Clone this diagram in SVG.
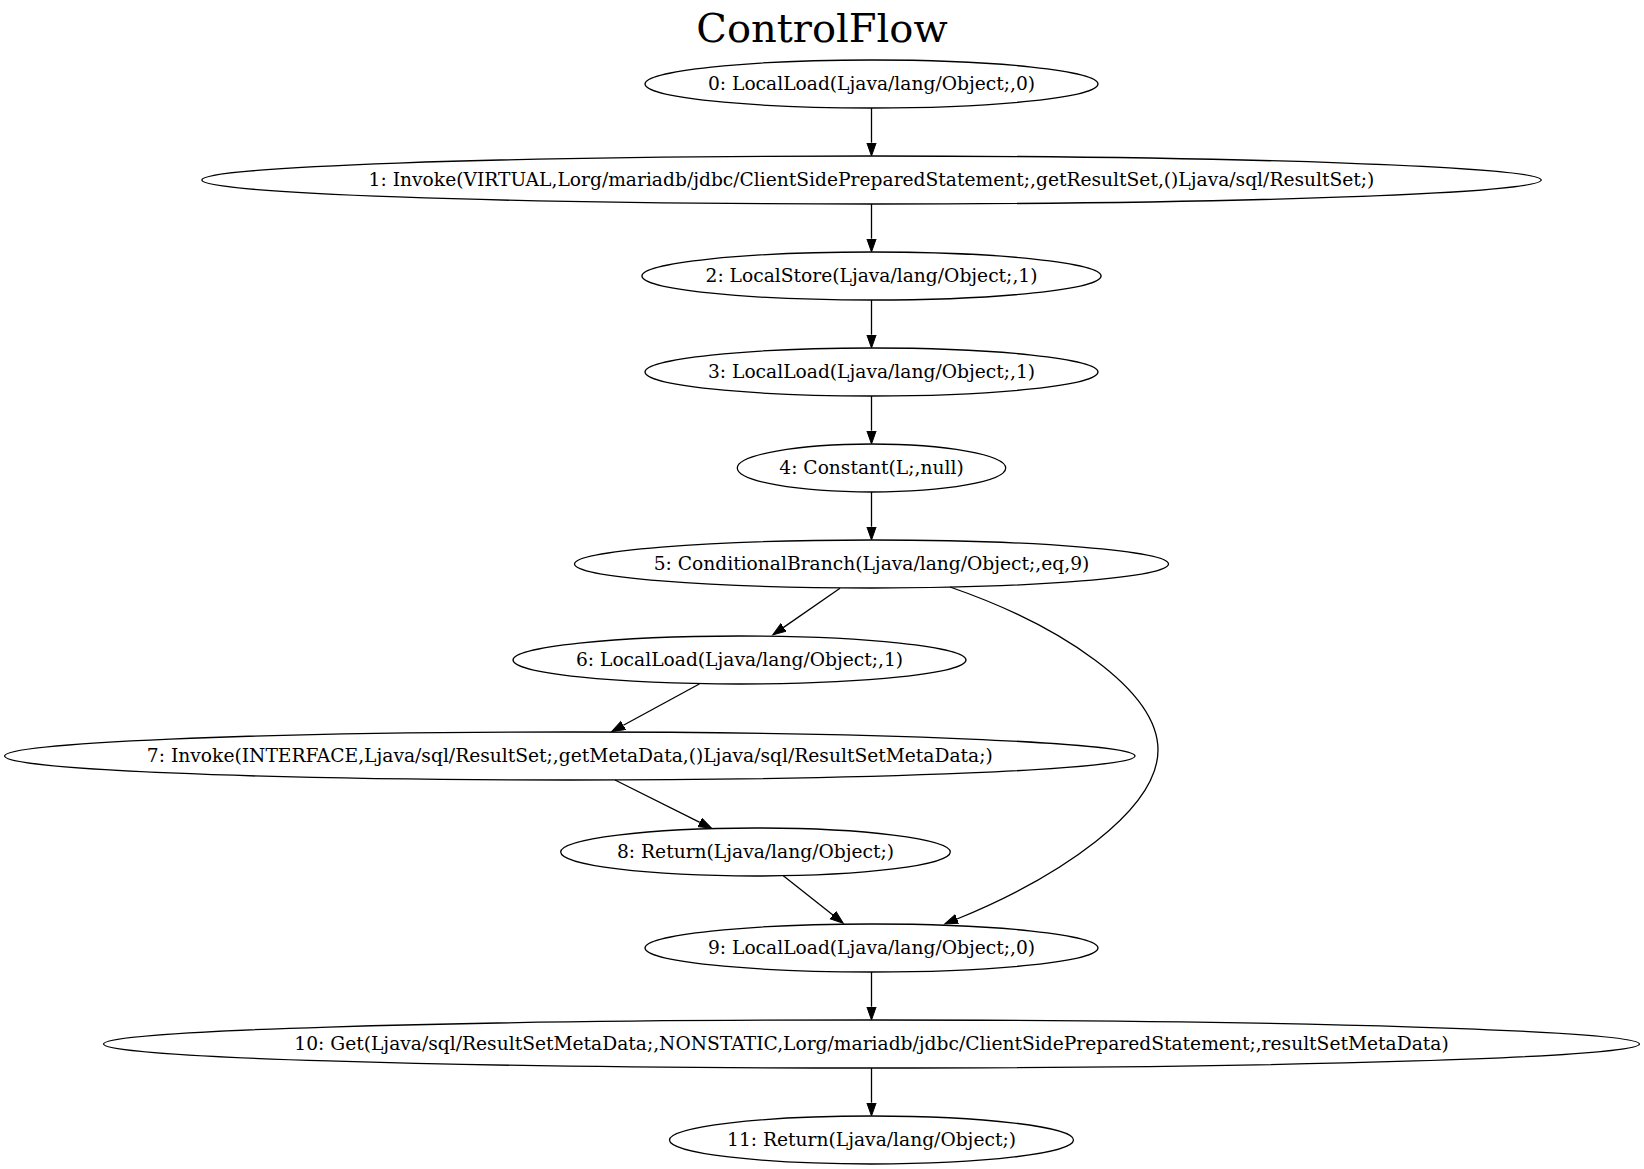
<svg xmlns="http://www.w3.org/2000/svg" width="1644" height="1169" viewBox="0 0 1644 1169">
<style>
.n ellipse{fill:none;stroke:#000;stroke-width:1.3}
.n text{font-family:"DejaVu Serif","Liberation Serif",serif;font-size:18.67px;text-anchor:middle;fill:#000}
.e path{fill:none;stroke:#000;stroke-width:1.3}
.title{font-family:"DejaVu Serif","Liberation Serif",serif;font-size:40px;text-anchor:middle;fill:#000}
</style>
<defs>
<marker id="ah" markerUnits="userSpaceOnUse" markerWidth="16" markerHeight="12" refX="0" refY="5" orient="auto" viewBox="0 0 16 12">
<path d="M0,0.3 L13.3,5 L0,9.7 z" fill="#000" stroke="#000" stroke-width="1"/>
</marker>
</defs>
<rect width="1644" height="1169" fill="#fff"/>
<text class="title" x="822" y="42">ControlFlow</text>
<g id="edges" class="e">
<path d="M871.5,108 L871.5,142.7" marker-end="url(#ah)"/>
<path d="M871.5,204 L871.5,238.7" marker-end="url(#ah)"/>
<path d="M871.5,300 L871.5,334.7" marker-end="url(#ah)"/>
<path d="M871.5,396 L871.5,430.7" marker-end="url(#ah)"/>
<path d="M871.5,492 L871.5,526.7" marker-end="url(#ah)"/>
<path d="M840,588.3 L783.6,627.4" marker-end="url(#ah)"/>
<path d="M950,587 C1060,625 1158,690 1158,750 C1158,810 1060,877 957,919" marker-end="url(#ah)"/>
<path d="M699.3,684 L623.4,725.3" marker-end="url(#ah)"/>
<path d="M615,780 L699.8,822.4" marker-end="url(#ah)"/>
<path d="M783.3,875.7 L832.9,915" marker-end="url(#ah)"/>
<path d="M871.5,972 L871.5,1006.7" marker-end="url(#ah)"/>
<path d="M871.5,1068 L871.5,1102.7" marker-end="url(#ah)"/>
</g>
<g id="node0" class="n"><ellipse cx="871.5" cy="84" rx="226.5" ry="24"/><text x="871.5" y="89.5">0: LocalLoad(Ljava/lang/Object;,0)</text></g>
<g id="node1" class="n"><ellipse cx="871.5" cy="180" rx="669.7" ry="24"/><text x="871.5" y="185.5">1: Invoke(VIRTUAL,Lorg/mariadb/jdbc/ClientSidePreparedStatement;,getResultSet,()Ljava/sql/ResultSet;)</text></g>
<g id="node2" class="n"><ellipse cx="871.5" cy="276" rx="229.6" ry="24"/><text x="871.5" y="281.5">2: LocalStore(Ljava/lang/Object;,1)</text></g>
<g id="node3" class="n"><ellipse cx="871.5" cy="372" rx="226.5" ry="24"/><text x="871.5" y="377.5">3: LocalLoad(Ljava/lang/Object;,1)</text></g>
<g id="node4" class="n"><ellipse cx="871.5" cy="468" rx="134.2" ry="24"/><text x="871.5" y="473.5">4: Constant(L;,null)</text></g>
<g id="node5" class="n"><ellipse cx="871.5" cy="564" rx="297" ry="24"/><text x="871.5" y="569.5">5: ConditionalBranch(Ljava/lang/Object;,eq,9)</text></g>
<g id="node6" class="n"><ellipse cx="739.5" cy="660" rx="226.5" ry="24"/><text x="739.5" y="665.5">6: LocalLoad(Ljava/lang/Object;,1)</text></g>
<g id="node7" class="n"><ellipse cx="569.8" cy="756" rx="565.2" ry="24"/><text x="569.8" y="761.5">7: Invoke(INTERFACE,Ljava/sql/ResultSet;,getMetaData,()Ljava/sql/ResultSetMetaData;)</text></g>
<g id="node8" class="n"><ellipse cx="755.5" cy="852" rx="194.8" ry="24"/><text x="755.5" y="857.5">8: Return(Ljava/lang/Object;)</text></g>
<g id="node9" class="n"><ellipse cx="871.5" cy="948" rx="226.5" ry="24"/><text x="871.5" y="953.5">9: LocalLoad(Ljava/lang/Object;,0)</text></g>
<g id="node10" class="n"><ellipse cx="871.5" cy="1044" rx="768" ry="24"/><text x="871.5" y="1049.5">10: Get(Ljava/sql/ResultSetMetaData;,NONSTATIC,Lorg/mariadb/jdbc/ClientSidePreparedStatement;,resultSetMetaData)</text></g>
<g id="node11" class="n"><ellipse cx="871.5" cy="1140" rx="202" ry="24"/><text x="871.5" y="1145.5">11: Return(Ljava/lang/Object;)</text></g>
</svg>
